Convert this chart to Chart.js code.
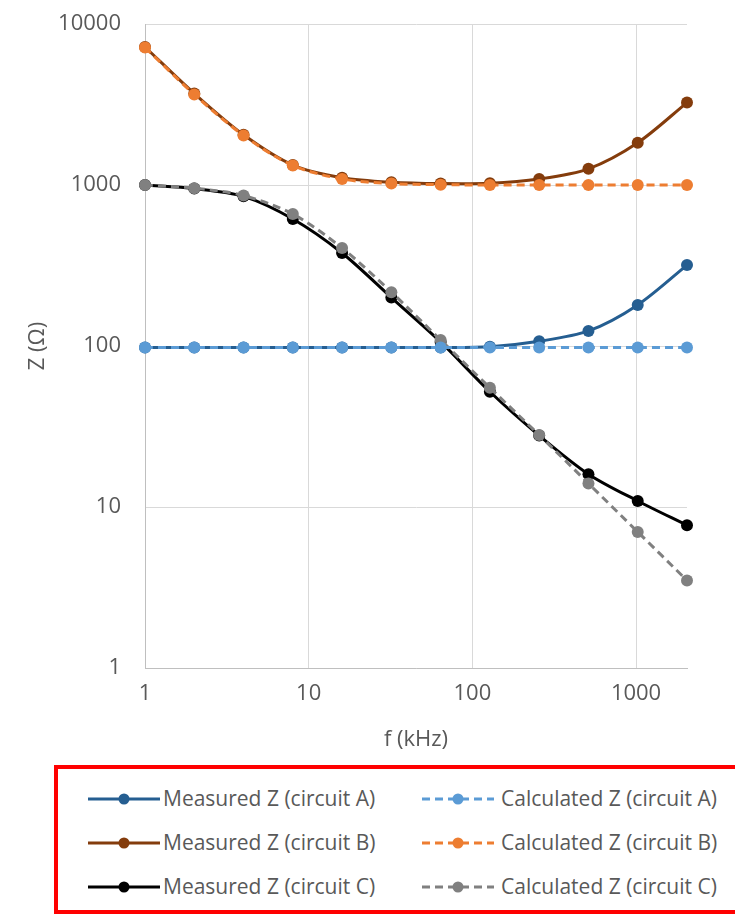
<!DOCTYPE html>
<html>
<head>
<meta charset="utf-8">
<script src="https://cdn.jsdelivr.net/npm/chart.js@4.4.0/dist/chart.umd.min.js"></script>
<style>
  body { margin: 0; background: #fff; width: 735px; height: 914px; overflow: hidden; position: relative; font-family: "Open Sans", sans-serif; }
  #wrap { position: absolute; left: 0; top: 0; width: 735px; height: 760px; }
  #box { position: absolute; left: 54px; top: 765px; width: 700px; height: 149px; border: 4px solid #ff0000; border-right: none; box-sizing: border-box; }
  .sample { position: absolute; }
  .label { position: absolute; color: #595959; font-size: 21px; line-height: 24px; white-space: nowrap; }
</style>
</head>
<body>
<div id="wrap"><canvas id="myChart"></canvas></div>
<div id="box"></div>
<div id="legend"></div>
<script>
// frequencies (kHz)
var freq = [1, 2, 4, 8, 16, 32, 64, 128, 256, 512, 1024, 2048];

var measA = [98, 98, 98, 98, 98, 98, 98, 99, 107, 124, 180, 318];
var calcA = [98, 98, 98, 98, 98, 98, 98, 98, 98, 98, 98, 98];
var measB = [7200, 3700, 2050, 1330, 1110, 1040, 1020, 1025, 1090, 1260, 1830, 3250];
var calcB = [7150, 3650, 2030, 1320, 1090, 1020, 1005, 1000, 1000, 1000, 1000, 1000];
var measC = [1000, 950, 850, 615, 378, 200, 106, 52, 27.8, 16, 10.9, 7.7];
var calcC = [1000, 955, 860, 660, 406, 216, 109, 55, 28, 14, 7, 3.5];

var xTicks = [1, 10, 100, 1000];
var yTicks = [1, 10, 100, 1000, 10000];

var seriesNames = [
  'Measured Z (circuit A)', 'Calculated Z (circuit A)',
  'Measured Z (circuit B)', 'Calculated Z (circuit B)',
  'Measured Z (circuit C)', 'Calculated Z (circuit C)'
];
var seriesData = [measA, calcA, measB, calcB, measC, calcC];
var seriesColors = ['#255E91', '#5B9BD5', '#843C0C', '#ED7D31', '#000000', '#808080'];

function makeDataset(i) {
  var dashed = (i % 2 == 1);
  return {
    label: seriesNames[i],
    data: freq.map(function (f, k) { return { x: f, y: seriesData[i][k] }; }),
    borderColor: seriesColors[i],
    backgroundColor: seriesColors[i],
    pointBackgroundColor: seriesColors[i],
    pointBorderColor: seriesColors[i],
    pointRadius: 6,
    pointBorderWidth: 0,
    pointHoverRadius: 6,
    borderWidth: 3,
    borderDash: dashed ? [8, 5] : [],
    tension: 0.3,
    clip: false,
    order: dashed ? 0 : 1
  };
}

var datasets = [];
for (var i = 0; i < seriesNames.length; i++) datasets.push(makeDataset(i));

var tickFont = { family: '"Open Sans", sans-serif', size: 22 };
var titleFont = { family: '"Open Sans", sans-serif', size: 22 };

var ctx = document.getElementById('myChart').getContext('2d');
var myChart = new Chart(ctx, {
  type: 'line',
  data: { datasets: datasets },
  options: {
    responsive: true,
    maintainAspectRatio: false,
    animation: false,
    layout: { padding: { left: 0, right: 48, top: 24, bottom: 0 } },
    plugins: { legend: { display: false }, tooltip: { enabled: false } },
    scales: {
      x: {
        type: 'logarithmic',
        min: 1,
        max: 2048,
        afterBuildTicks: function (s) { s.ticks = xTicks.map(function (v) { return { value: v }; }); },
        afterFit: function (s) { s.height = 92; s.paddingLeft = 0; s.paddingRight = 0; },
        ticks: { color: '#595959', font: tickFont, padding: 13, maxRotation: 0, autoSkip: false,
          callback: function (v) { return String(v); } },
        grid: { color: '#d9d9d9', drawTicks: false },
        border: { color: '#bfbfbf' },
        title: { display: true, text: 'f (kHz)', color: '#595959', font: titleFont, padding: { top: 4, bottom: 7 } }
      },
      y: {
        type: 'logarithmic',
        min: 1,
        max: 10000,
        afterBuildTicks: function (s) { s.ticks = yTicks.map(function (v) { return { value: v }; }); },
        afterFit: function (s) { s.width = 145; s.paddingTop = 0; s.paddingBottom = 0; },
        ticks: { color: '#595959', font: tickFont, padding: 24, autoSkip: false,
          callback: function (v) { return String(v); } },
        grid: { color: '#d9d9d9', drawTicks: false },
        border: { color: '#bfbfbf' },
        title: { display: true, text: 'Z (Ω)', color: '#595959', font: titleFont, padding: { top: 25, bottom: 4 } }
      }
    }
  }
});

// legend, two columns x three rows
var colSample = [88, 422];
var colText = [163, 501];
var rowY = [799, 843, 887];
var legend = document.getElementById('legend');
for (var j = 0; j < seriesNames.length; j++) {
  var col = j % 2, row = Math.floor(j / 2);
  var c = document.createElement('canvas');
  c.width = 72; c.height = 14;
  c.className = 'sample';
  c.style.left = colSample[col] + 'px';
  c.style.top = (rowY[row] - 7) + 'px';
  var g = c.getContext('2d');
  g.strokeStyle = seriesColors[j];
  g.lineWidth = 3;
  if (col == 1) g.setLineDash([8, 5]);
  g.beginPath(); g.moveTo(0, 7); g.lineTo(72, 7); g.stroke();
  g.fillStyle = seriesColors[j];
  g.beginPath(); g.arc(36, 7, 5.5, 0, Math.PI * 2); g.fill();
  legend.appendChild(c);

  var t = document.createElement('div');
  t.className = 'label';
  t.textContent = seriesNames[j];
  t.style.left = colText[col] + 'px';
  t.style.top = (rowY[row] - 13) + 'px';
  legend.appendChild(t);
}
</script>
</body>
</html>
